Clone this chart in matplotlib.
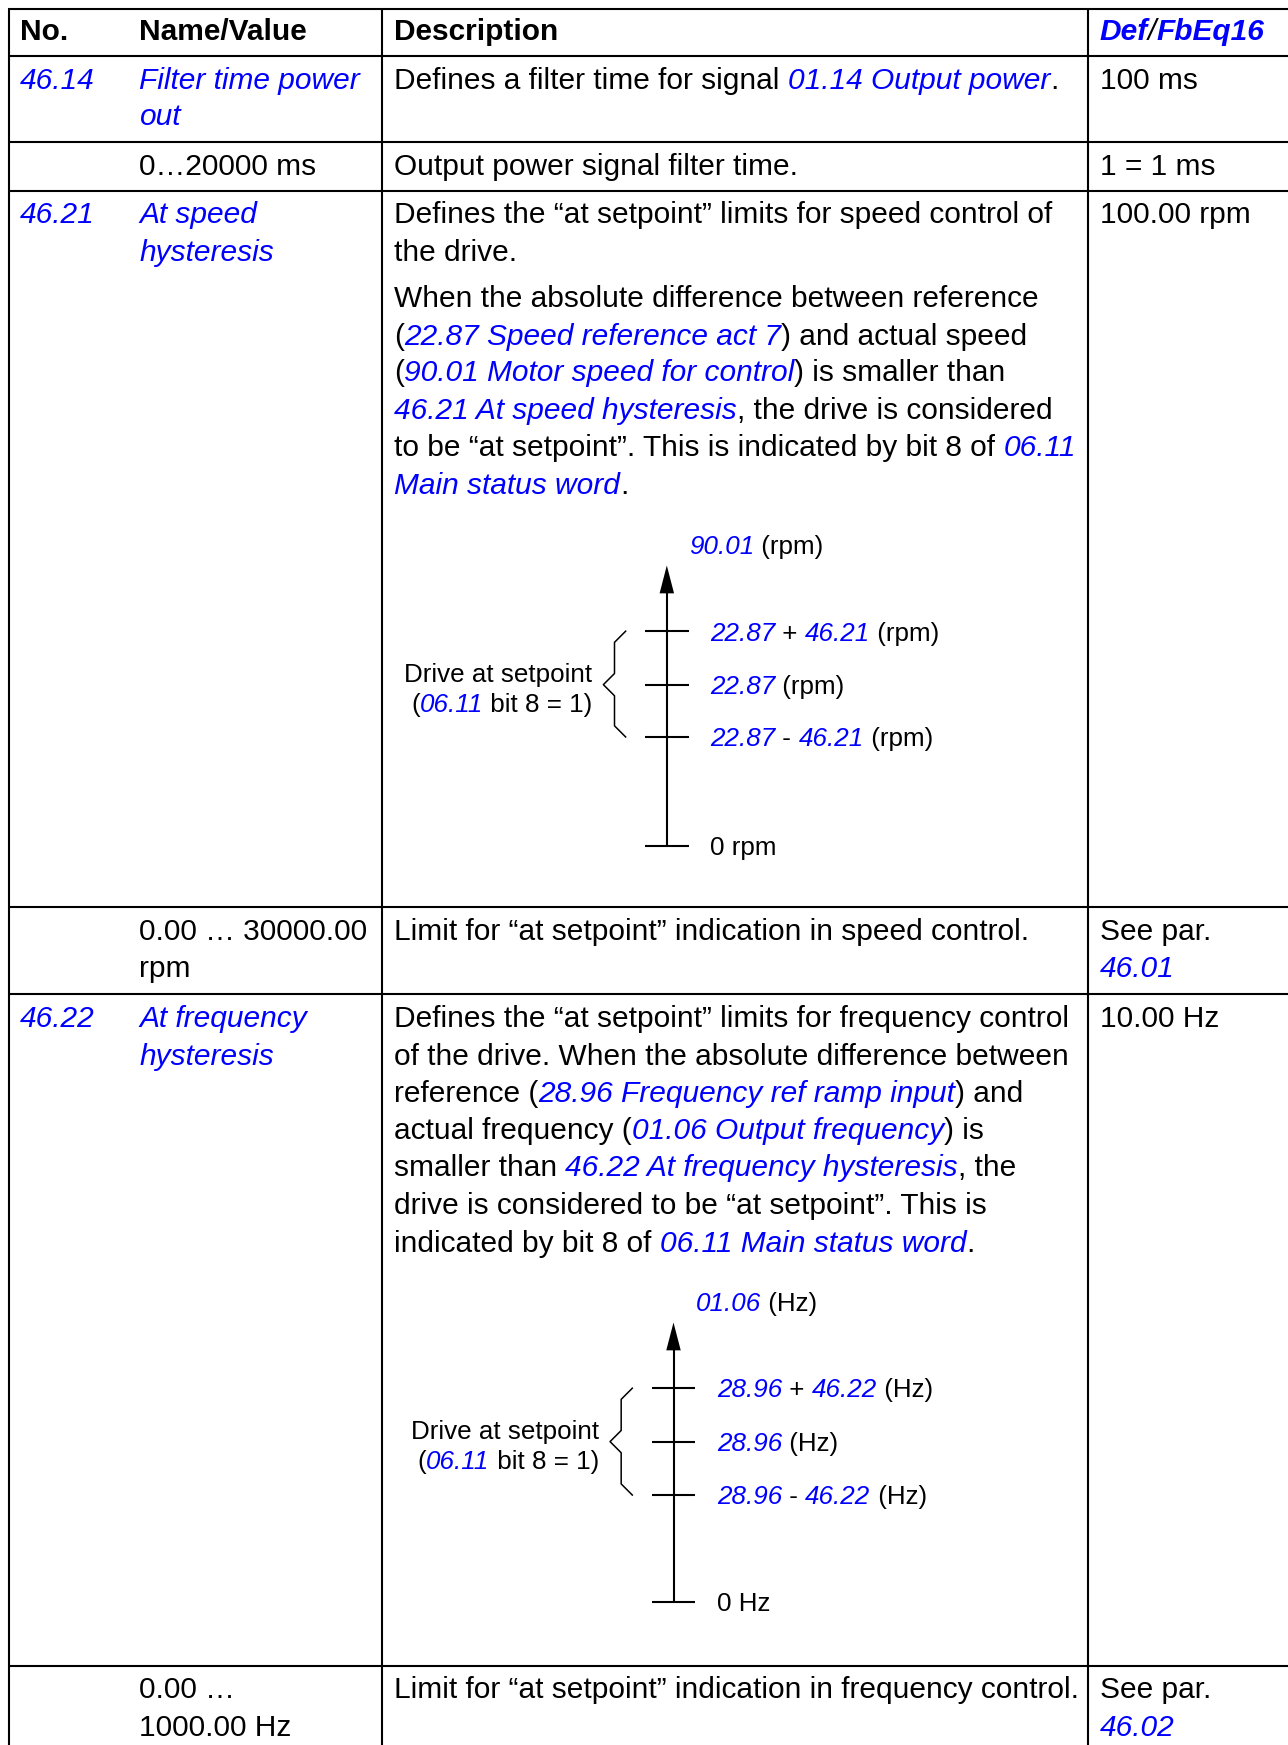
import matplotlib
matplotlib.use('Agg')
import matplotlib.pyplot as plt

W, H = 1288, 1745
S = W / 1157.0          # layout measured on the 1157-wide view
BLUE = '#0000ff'
FONT = ['Liberation Sans', 'DejaVu Sans']
BODY = 29.85 * 0.72     # pt (px em at 100 dpi)
DIAG = 26 * 0.72

# ---------------- table structure (values in the 1157-wide frame) ----------
col_lines = [8, 343, 977]
row_lines = [8, 50, 128, 172, 815, 893, 1497]
col_text_x = [18, 125, 354, 988]

# ---------------- text content ----------------------------------------------
header = [
    (0, 26, [('No.', 'b')]),
    (1, 26, [('Name/Value', 'b')]),
    (2, 26, [('Description', 'b')]),
    (3, 26, [('Def', 'bi'), ('/', 'ik'), ('FbEq16', 'bi')]),
]

body = [
    # row 46.14
    (0, 70, [('46.14', 'i')]),
    (1, 70, [('Filter time power', 'i')]),
    (1, 103, [('out', 'i')]),
    (2, 70, [('Defines a filter time for signal ', 'n'), ('01.14 Output power', 'i'), ('.', 'n')]),
    (3, 70, [('100 ms', 'n')]),
    # range row
    (1, 148, [('0\u202620000 ms', 'n')]),
    (2, 148, [('Output power signal filter time.', 'n')]),
    (3, 148, [('1 = 1 ms', 'n')]),
    # row 46.21
    (0, 191, [('46.21', 'i')]),
    (1, 191, [('At speed', 'i')]),
    (1, 225, [('hysteresis', 'i')]),
    (2, 191, [('Defines the \u201cat setpoint\u201d limits for speed control of', 'n')]),
    (2, 225, [('the drive.', 'n')]),
    (2, 266, [('When the absolute difference between reference', 'n')]),
    (2, 300, [('(', 'n'), ('22.87 Speed reference act 7', 'i'), (') and actual speed', 'n')]),
    (2, 333, [('(', 'n'), ('90.01 Motor speed for control', 'i'), (') is smaller than', 'n')]),
    (2, 367, [('46.21 At speed hysteresis', 'i'), (', the drive is considered', 'n')]),
    (2, 400, [('to be \u201cat setpoint\u201d. This is indicated by bit 8 of ', 'n'), ('06.11', 'i')]),
    (2, 434, [('Main status word', 'i'), ('.', 'n')]),
    (3, 191, [('100.00 rpm', 'n')]),
    # range row
    (1, 835, [('0.00 \u2026 30000.00', 'n')]),
    (1, 868, [('rpm', 'n')]),
    (2, 835, [('Limit for \u201cat setpoint\u201d indication in speed control.', 'n')]),
    (3, 835, [('See par.', 'n')]),
    (3, 868, [('46.01', 'i')]),
    # row 46.22
    (0, 913, [('46.22', 'i')]),
    (1, 913, [('At frequency', 'i')]),
    (1, 947, [('hysteresis', 'i')]),
    (2, 913, [('Defines the \u201cat setpoint\u201d limits for frequency control', 'n')]),
    (2, 947, [('of the drive. When the absolute difference between', 'n')]),
    (2, 980, [('reference (', 'n'), ('28.96 Frequency ref ramp input', 'i'), (') and', 'n')]),
    (2, 1014, [('actual frequency (', 'n'), ('01.06 Output frequency', 'i'), (') is', 'n')]),
    (2, 1047, [('smaller than ', 'n'), ('46.22 At frequency hysteresis', 'i'), (', the', 'n')]),
    (2, 1081, [('drive is considered to be \u201cat setpoint\u201d. This is', 'n')]),
    (2, 1115, [('indicated by bit 8 of ', 'n'), ('06.11 Main status word', 'i'), ('.', 'n')]),
    (3, 913, [('10.00 Hz', 'n')]),
    # range row
    (1, 1516, [('0.00 \u2026', 'n')]),
    (1, 1550, [('1000.00 Hz', 'n')]),
    (2, 1516, [('Limit for \u201cat setpoint\u201d indication in frequency control.', 'n')]),
    (3, 1516, [('See par.', 'n')]),
    (3, 1550, [('46.02', 'i')]),
]

# ---------------- diagrams ---------------------------------------------------
diag1_axis_x = 599
diag1_tip = 508
diag1_ticks = [567, 615, 662, 760]
diag1_labels = [
    [('22.87', 'i'), (' + ', 'n'), ('46.21', 'i'), (' (rpm)', 'n')],
    [('22.87', 'i'), (' (rpm)', 'n')],
    [('22.87', 'i'), (' - ', 'n'), ('46.21', 'i'), (' (rpm)', 'n')],
    [('0 rpm', 'n')],
]
diag1_top = [('90.01', 'i'), (' (rpm)', 'n')]

diag2_axis_x = 605
diag2_tip = 1188
diag2_ticks = [1247, 1295, 1343, 1439]
diag2_labels = [
    [('28.96', 'i'), (' + ', 'n'), ('46.22', 'i'), (' (Hz)', 'n')],
    [('28.96', 'i'), (' (Hz)', 'n')],
    [('28.96', 'i'), (' - ', 'n'), ('46.22', 'i'), (' (Hz)', 'n')],
    [('0 Hz', 'n')],
]
diag2_top = [('01.06', 'i'), (' (Hz)', 'n')]

brace_text = [
    [('Drive at setpoint', 'n')],
    [('(', 'n'), ('06.11', 'i'), (' bit 8 = 1)', 'n')],
]

# ---------------- drawing ----------------------------------------------------
fig = plt.figure(figsize=(W / 100, H / 100), dpi=100)
ax = fig.add_axes([0, 0, 1, 1])
ax.set_xlim(0, W)
ax.set_ylim(H, 0)
ax.axis('off')
renderer = fig.canvas.get_renderer()

STY = {
    'n': ('black', 'normal', 'normal'),
    'i': (BLUE, 'italic', 'normal'),
    'ik': ('black', 'italic', 'normal'),
    'b': ('black', 'normal', 'bold'),
    'bi': (BLUE, 'italic', 'bold'),
}


def twidth(s, st, size):
    c, fs, fw = STY[st]
    t = ax.text(0, 0, '|' + s + '|', fontsize=size, family=FONT,
                fontstyle=fs, fontweight=fw)
    w1 = t.get_window_extent(renderer).width
    t.set_text('||')
    w2 = t.get_window_extent(renderer).width
    t.remove()
    return w1 - w2


def draw_runs(x, y, items, size=BODY, ha='left'):
    em = size / 0.72
    xf = x * S
    yf = y * S + 0.358 * em
    widths = [twidth(s, st, size) for s, st in items]
    if ha == 'right':
        xf -= sum(widths)
    for (s, st), w in zip(items, widths):
        c, fs, fw = STY[st]
        ax.text(xf, yf, s, fontsize=size, family=FONT, fontstyle=fs,
                fontweight=fw, color=c, va='baseline', ha='left')
        xf += w


LW = 1.5
for x in col_lines:
    ax.plot([x * S, x * S], [row_lines[0] * S, H + 5], color='black', lw=LW,
            solid_capstyle='butt')
for y in row_lines:
    ax.plot([col_lines[0] * S - 1, W + 5], [y * S, y * S], color='black', lw=LW,
            solid_capstyle='butt')

for c, y, items in header + body:
    draw_runs(col_text_x[c], y, items)


def diagram(axis_x, tip, ticks, labels, top):
    lw = 1.5
    # axis line
    ax.plot([axis_x * S, axis_x * S], [ticks[-1] * S, (tip + 20) * S],
            color='black', lw=lw, solid_capstyle='butt')
    # arrow head
    ax.fill([axis_x * S, (axis_x - 6.5) * S, (axis_x + 6.5) * S],
            [tip * S, (tip + 25) * S, (tip + 25) * S], color='black', lw=0)
    # ticks
    for t in ticks:
        ax.plot([(axis_x - 19.5) * S, (axis_x + 19.5) * S], [t * S, t * S],
                color='black', lw=lw, solid_capstyle='butt')
    for t, lab in zip(ticks, labels):
        draw_runs(axis_x + 39, t, lab, size=DIAG)
    draw_runs(axis_x + 20, tip - 19, top, size=DIAG)
    # brace
    t0, m, b = ticks[0], ticks[1], ticks[2]
    bx = axis_x - 47
    bxs = [bx + 10, bx, bx, bx - 10, bx, bx, bx + 10]
    bys = [t0, t0 + 10, m - 10, m, m + 10, b - 10, b]
    ax.plot([v * S for v in bxs], [v * S for v in bys], color='black', lw=1.1)
    draw_runs(bx - 20, m - 11, brace_text[0], size=DIAG, ha='right')
    draw_runs(bx - 20, m + 16, brace_text[1], size=DIAG, ha='right')


diagram(diag1_axis_x, diag1_tip, diag1_ticks, diag1_labels, diag1_top)
diagram(diag2_axis_x, diag2_tip, diag2_ticks, diag2_labels, diag2_top)

fig.savefig('out.png', dpi=100)
